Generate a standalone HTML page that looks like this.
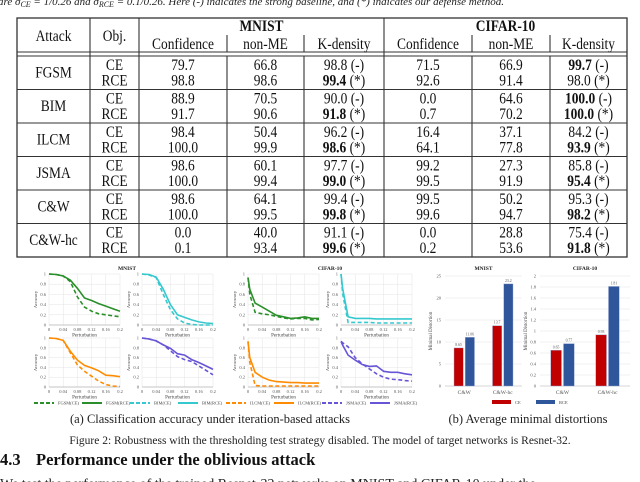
<!DOCTYPE html>
<html><head><meta charset="utf-8"><style>
html,body{margin:0;padding:0;background:#fff;overflow:hidden}
svg{display:block;font-family:"Liberation Serif",serif}
</style></head><body>
<svg id="root" width="640" height="482" viewBox="0 0 640 482" xmlns="http://www.w3.org/2000/svg">
<text x="-2" y="5" font-size="11" font-style="italic" fill="#222">are σ<tspan font-size="8" dy="2">CE</tspan><tspan dy="-2"> = 1/0.26 and σ</tspan><tspan font-size="8" dy="2">RCE</tspan><tspan dy="-2"> = 0.1/0.26. Here (-) indicates the strong baseline, and (*) indicates our defense method.</tspan></text>
<g id="table"></g>
<g id="lines"></g>
<g id="bars"></g>
<text x="210" y="423" font-size="12.5" text-anchor="middle" fill="#222">(a) Classification accuracy under iteration-based attacks</text>
<text x="528" y="423" font-size="12.5" text-anchor="middle" fill="#222">(b) Average minimal distortions</text>
<text x="320" y="444" font-size="11.5" text-anchor="middle" fill="#222">Figure 2: Robustness with the thresholding test strategy disabled. The model of target networks is Resnet-32.</text>
<text x="0" y="465" font-size="16.5" font-weight="bold" fill="#111">4.3</text>
<text x="36" y="465" font-size="16.5" font-weight="bold" fill="#111">Performance under the oblivious attack</text>
<text x="0" y="488" font-size="14" fill="#222">We test the performance of the trained Resnet-32 networks on MNIST and CIFAR-10 under the</text>
</svg>
<script>
// ---------- table data ----------
const attacks = ["FGSM","BIM","ILCM","JSMA","C&W","C&W-hc"];
const colHeads = ["Confidence","non-ME","K-density","Confidence","non-ME","K-density"];
const ceRows = [
 ["79.7","66.8","98.8 (-)","71.5","66.9","99.7 (-)"],
 ["88.9","70.5","90.0 (-)","0.0","64.6","100.0 (-)"],
 ["98.4","50.4","96.2 (-)","16.4","37.1","84.2 (-)"],
 ["98.6","60.1","97.7 (-)","99.2","27.3","85.8 (-)"],
 ["98.6","64.1","99.4 (-)","99.5","50.2","95.3 (-)"],
 ["0.0","40.0","91.1 (-)","0.0","28.8","75.4 (-)"]];
const rceRows = [
 ["98.8","98.6","99.4 (*)","92.6","91.4","98.0 (*)"],
 ["91.7","90.6","91.8 (*)","0.7","70.2","100.0 (*)"],
 ["100.0","99.9","98.6 (*)","64.1","77.8","93.9 (*)"],
 ["100.0","99.4","99.0 (*)","99.5","91.9","95.4 (*)"],
 ["100.0","99.5","99.8 (*)","99.6","94.7","98.2 (*)"],
 ["0.1","93.4","99.6 (*)","0.2","53.6","91.8 (*)"]];
const ceBold = [[false,false,false,false,false,true],[false,false,false,false,false,true],[false,false,false,false,false,false],[false,false,false,false,false,false],[false,false,false,false,false,false],[false,false,false,false,false,false]];
const rceBold = [[false,false,true,false,false,false],[false,false,true,false,false,true],[false,false,true,false,false,true],[false,false,true,false,false,true],[false,false,true,false,false,true],[false,false,true,false,false,true]];

// ---------- line chart data ----------
const pertTicks = ["0","0.04","0.08","0.12","0.16","0.2"];
const accTicks = ["0","0.2","0.4","0.6","0.8","1"];
const mnistX = [0,0.02,0.04,0.06,0.08,0.1,0.12,0.14,0.16,0.18,0.2];
const cifarX = [0,0.005,0.02,0.04,0.06,0.08,0.1,0.12,0.14,0.16,0.18,0.2];
const mnistFgsmCE = [1,.99,.96,.85,.55,.35,.27,.22,.2,.18,.16];
const mnistFgsmRCE = [1,.99,.96,.88,.72,.53,.48,.42,.37,.32,.27];
const mnistBimCE = [1,.98,.93,.6,.3,.12,.04,.01,0,0,0];
const mnistBimRCE = [1,.99,.94,.7,.4,.2,.15,.1,.06,.04,.03];
const mnistIlcmCE = [1,.99,.95,.7,.45,.32,.22,.12,.05,.02,.01];
const mnistIlcmRCE = [1,.99,.95,.73,.55,.44,.39,.33,.24,.23,.21];
const mnistJsmaCE = [1,.98,.94,.86,.74,.62,.56,.52,.43,.34,.25];
const mnistJsmaRCE = [1,.98,.94,.86,.79,.68,.65,.56,.5,.43,.36];
const cifarFgsmCE = [.93,.6,.25,.22,.2,.17,.14,.12,.13,.13,.1,.11];
const cifarFgsmRCE = [.93,.7,.43,.35,.27,.19,.16,.13,.14,.16,.13,.13];
const cifarBimCE = [1,.6,.05,.05,.05,.05,.04,.04,.04,.04,.04,.04];
const cifarBimRCE = [1,.7,.16,.13,.13,.13,.12,.12,.12,.12,.12,.12];
const cifarIlcmCE = [.93,.5,.03,.02,.02,.02,.02,.02,.02,.02,.02,.02];
const cifarIlcmRCE = [.93,.6,.3,.2,.14,.11,.1,.09,.09,.08,.08,.08];
const cifarJsmaCE = [.93,.9,.82,.6,.47,.37,.27,.2,.16,.15,.13,.12];
const cifarJsmaRCE = [.93,.85,.65,.55,.46,.42,.43,.32,.3,.3,.27,.25];
const legendLabels = ["FGSM(CE)","FGSM(RCE)","BIM(CE)","BIM(RCE)","ILCM(CE)","ILCM(RCE)","JSMA(CE)","JSMA(RCE)"];

// ---------- bar chart data ----------
const barCats = ["C&W","C&W-hc"];
const mnistCE = [8.65,13.7];
const mnistRCE = [11.06,23.2];
const cifarCE = [0.65,0.93];
const cifarRCE = [0.77,1.81];
const mnistBarTicks = [0,5,10,15,20,25];
const cifarBarTicks = [0,0.2,0.4,0.6,0.8,1,1.2,1.4,1.6,1.8,2];

const NS="http://www.w3.org/2000/svg";
function mk(parent,tag,attrs,txt){const e=document.createElementNS(NS,tag);for(const k in attrs)e.setAttribute(k,attrs[k]);if(txt!==undefined)e.textContent=txt;parent.appendChild(e);return e;}

// ---------- table ----------
(function(){
 const g=document.getElementById('table');
 const xs=[17,90,139,227,304,384,472,550,627];
 const top=18,hb=52,hb2=56,bot=257,rh=(bot-hb2)/6;
 const SX=0.84;
 const L={stroke:"#333","stroke-width":1.1};
 let r=mk(g,'rect',{x:17,y:top,width:610,height:bot-top,fill:"none",stroke:"#333","stroke-width":1.3});
 
 
 mk(g,'line',Object.assign({x1:17,x2:627,y1:hb,y2:hb},L));
 mk(g,'line',Object.assign({x1:17,x2:627,y1:hb2,y2:hb2},L));
 [1,2,5].forEach(i=>mk(g,'line',Object.assign({x1:xs[i],x2:xs[i],y1:top,y2:bot},L)));
 [3,4,6,7].forEach(i=>{mk(g,'line',Object.assign({x1:xs[i],x2:xs[i],y1:35,y2:hb},L));mk(g,'line',Object.assign({x1:xs[i],x2:xs[i],y1:hb2,y2:bot},L));});
 for(let i=1;i<6;i++){const y=hb2+rh*i;mk(g,'line',Object.assign({x1:17,x2:627,y1:y,y2:y},L));}
 const T=(x,y,s,name,bold)=>{const t=mk(g,'text',{x:0,y:0,transform:`translate(${x},${y}) scale(${SX},1)`,"font-size":16,"text-anchor":"middle",fill:"#111","font-weight":bold?"bold":"normal"},s);return t;};
 T(53.5,41,"Attack","header-attack");
 T(114.5,41,"Obj.","header-obj");
 T(261.5,31,"MNIST","header-mnist",true);
 T(505.5,31,"CIFAR-10","header-cifar",true);
 colHeads.forEach((h,i)=>T((xs[i+2]+xs[i+3])/2,49,h,"header-"+h.toLowerCase()));
 const cell=(x,y,s,bold,name)=>{
   const t=mk(g,'text',{x:0,y:0,transform:`translate(${x},${y}) scale(${SX},1)`,"font-size":16,"text-anchor":"middle",fill:"#111"});
   
   const m=s.match(/^(\S+)(\s\(.\))?$/);
   mk(t,'tspan',{"font-weight":bold?"bold":"normal"},m[1]);
   if(m[2])mk(t,'tspan',{},m[2]);
 };
 attacks.forEach((a,ri)=>{
   const y0=hb2+rh*ri;
   T(53.5,y0+21.5,a,"attack-"+a.toLowerCase());
   T(114.5,y0+14,"CE","obj-ce");
   T(114.5,y0+29.5,"RCE","obj-rce");
   for(let c=0;c<6;c++){
     const cx=(xs[c+2]+xs[c+3])/2;
     cell(cx,y0+14,ceRows[ri][c],ceBold[ri][c],"cell-ce");
     cell(cx,y0+29.5,rceRows[ri][c],rceBold[ri][c],"cell-rce");
   }
 });
})();

// ---------- line charts ----------
(function(){
 const g=document.getElementById('lines');
 const green="#2a8f2a",cyan="#35c9cf",orange="#ff8c00",purple="#6655d6";
 const panels=[
  {x0:49,x1:120,yt:274,yb:325,xs:mnistX,ce:mnistFgsmCE,rce:mnistFgsmRCE,c:green,n:"mnist-fgsm"},
  {x0:142,x1:213,yt:274,yb:325,xs:mnistX,ce:mnistBimCE,rce:mnistBimRCE,c:cyan,n:"mnist-bim"},
  {x0:248,x1:319,yt:274,yb:325,xs:cifarX,ce:cifarFgsmCE,rce:cifarFgsmRCE,c:green,n:"cifar-fgsm"},
  {x0:341,x1:412,yt:274,yb:325,xs:cifarX,ce:cifarBimCE,rce:cifarBimRCE,c:cyan,n:"cifar-bim"},
  {x0:49,x1:120,yt:338,yb:387,xs:mnistX,ce:mnistIlcmCE,rce:mnistIlcmRCE,c:orange,n:"mnist-ilcm"},
  {x0:142,x1:213,yt:338,yb:387,xs:mnistX,ce:mnistJsmaCE,rce:mnistJsmaRCE,c:purple,n:"mnist-jsma"},
  {x0:248,x1:319,yt:338,yb:387,xs:cifarX,ce:cifarIlcmCE,rce:cifarIlcmRCE,c:orange,n:"cifar-ilcm"},
  {x0:341,x1:412,yt:338,yb:387,xs:cifarX,ce:cifarJsmaCE,rce:cifarJsmaRCE,c:purple,n:"cifar-jsma"}];
 panels.forEach(p=>{
   const pg=mk(g,'g',{});
   
   
   const sx=v=>p.x0+(v/0.2)*(p.x1-p.x0), sy=v=>p.yb-v*(p.yb-p.yt);
   accTicks.forEach(t=>{const y=sy(+t);mk(pg,'line',{x1:p.x0,x2:p.x1,y1:y,y2:y,stroke:"#e4e4e4","stroke-width":0.5});
     mk(pg,'text',{x:p.x0-3,y:y+1.5,"font-size":4.5,"text-anchor":"end",fill:"#555"},t);});
   pertTicks.forEach(t=>{const x=sx(+t);mk(pg,'line',{x1:x,x2:x,y1:p.yt,y2:p.yb,stroke:"#e4e4e4","stroke-width":0.5});
     mk(pg,'text',{x:x,y:p.yb+6,"font-size":4.5,"text-anchor":"middle",fill:"#555"},t);});
   mk(pg,'line',{x1:p.x0,x2:p.x1,y1:p.yb,y2:p.yb,stroke:"#999","stroke-width":0.6});
   mk(pg,'text',{x:(p.x0+p.x1)/2,y:p.yb+11.5,"font-size":5,"text-anchor":"middle",fill:"#444"},"Perturbation");
   mk(pg,'text',{x:0,y:0,"font-size":4.5,"text-anchor":"middle",fill:"#444",transform:`translate(${p.x0-12},${(p.yt+p.yb)/2}) rotate(-90)`},"Accuracy");
   const pts=arr=>arr.map((v,i)=>sx(p.xs[i]).toFixed(1)+','+sy(v).toFixed(1)).join(' ');
   const l1=mk(pg,'polyline',{points:pts(p.ce),fill:"none",stroke:p.c,"stroke-width":1.6,"stroke-dasharray":"4,2.5"});
   
   
   const l2=mk(pg,'polyline',{points:pts(p.rce),fill:"none",stroke:p.c,"stroke-width":1.6});
   
   
 });
 const t1=mk(g,'text',{x:127,y:270,"font-size":5.5,"font-weight":"bold","text-anchor":"middle",fill:"#222"},"MNIST");
 
 
 const t2=mk(g,'text',{x:330,y:270,"font-size":5.5,"font-weight":"bold","text-anchor":"middle",fill:"#222"},"CIFAR-10");
 
 
 const cols=[green,green,cyan,cyan,orange,orange,purple,purple];
 legendLabels.forEach((lab,i)=>{
   const x=34+i*48, y=403;
   const lg=mk(g,'g',{});
   
   
   mk(lg,'line',{x1:x,x2:x+20,y1:y,y2:y,stroke:cols[i],"stroke-width":2,"stroke-dasharray":i%2===0?"4,2":"none"});
   mk(lg,'text',{x:x+24,y:y+1.5,"font-size":4.5,fill:"#444"},lab);
 });
})();

// ---------- bar charts ----------
(function(){
 const g=document.getElementById('bars');
 const red="#c00000",blue="#2f559a";
 const charts=[
  {x0:445,x1:522,yt:276,yb:386,max:25,ticks:mnistBarTicks,ce:mnistCE,rce:mnistRCE,lab:v=>v.toFixed(2).replace(/\.?0+$/,''),title:"MNIST",n:"mnist"},
  {x0:540,x1:630,yt:276,yb:386,max:2,ticks:cifarBarTicks,ce:cifarCE,rce:cifarRCE,lab:v=>v.toFixed(2),title:"CIFAR-10",n:"cifar"}];
 charts.forEach(c=>{
   const cg=mk(g,'g',{});
   
   
   const sy=v=>c.yb-v/c.max*(c.yb-c.yt);
   c.ticks.forEach(t=>{const y=sy(t);mk(cg,'line',{x1:c.x0,x2:c.x1,y1:y,y2:y,stroke:"#e4e4e4","stroke-width":0.5});
     mk(cg,'text',{x:c.x0-4,y:y+1.5,"font-size":4.5,"text-anchor":"end",fill:"#555"},String(t));});
   mk(cg,'line',{x1:c.x0,x2:c.x1,y1:c.yb,y2:c.yb,stroke:"#bbb","stroke-width":0.6});
   mk(cg,'text',{x:(c.x0+c.x1)/2,y:270,"font-size":5.5,"font-weight":"bold","text-anchor":"middle",fill:"#222"},c.title);
   mk(cg,'text',{x:0,y:0,"font-size":5,"text-anchor":"middle",fill:"#444",transform:`translate(${c.x0-13},${(c.yt+c.yb)/2}) rotate(-90)`},"Minimal Distortion");
   const gw=(c.x1-c.x0)/barCats.length, bw=gw*0.24;
   barCats.forEach((cat,i)=>{
     const cx=c.x0+gw*(i+0.5);
     mk(cg,'text',{x:cx,y:c.yb+8,"font-size":5.5,"text-anchor":"middle",fill:"#555"},cat);
     [[c.ce[i],red,cx-bw-1,'ce'],[c.rce[i],blue,cx+1,'rce']].forEach(([v,col,x,k])=>{
       const b=mk(cg,'rect',{x:x,y:sy(v),width:bw,height:c.yb-sy(v),fill:col,stroke:"#9aa9d6","stroke-width":0.4});
       
       
       mk(cg,'text',{x:x+bw/2,y:sy(v)-2,"font-size":3.8,"text-anchor":"middle",fill:"#555"},c.lab(v));
     });
   });
 });
 [[492,red,"CE"],[536,blue,"RCE"]].forEach(([x,col,lab])=>{
   const lg=mk(g,'g',{});
   
   
   mk(lg,'rect',{x:x,y:400,width:19,height:4,fill:col});
   mk(lg,'text',{x:x+23,y:404,"font-size":4.5,fill:"#444"},lab);
 });
})();
</script>
</body></html>
